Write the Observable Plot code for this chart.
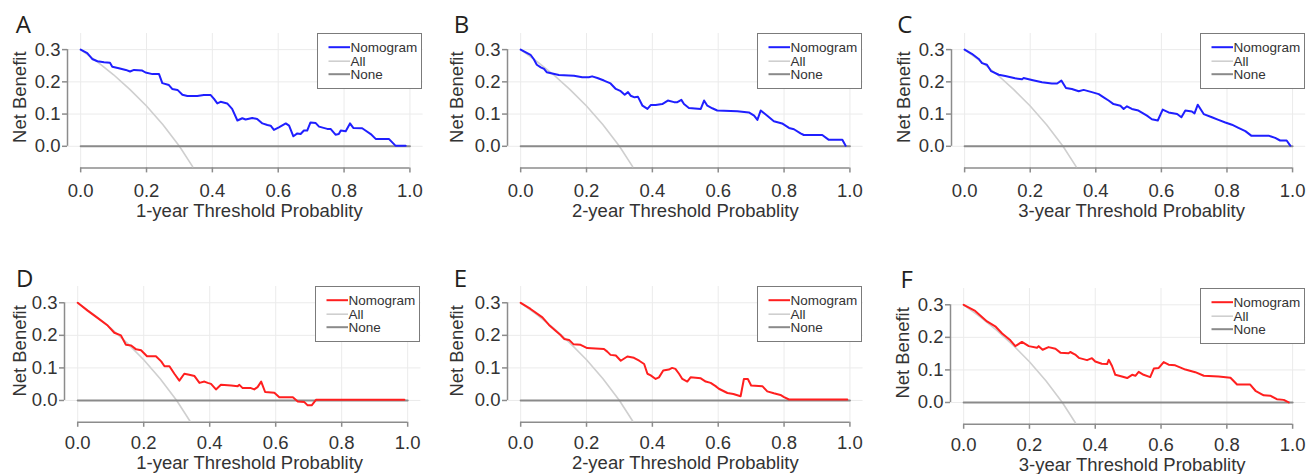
<!DOCTYPE html>
<html>
<head>
<meta charset="utf-8">
<script src="https://cdn.jsdelivr.net/npm/d3@7"></script>
<script src="https://cdn.jsdelivr.net/npm/@observablehq/plot@0.6"></script>
<style>
  body { margin: 0; background: #fff; }
  #wrap { position: relative; width: 1307px; height: 474px; overflow: hidden; background: #fff;
          font-family: "Liberation Sans", Arial, sans-serif; }
  .panel { position: absolute; }
  .legend { position: absolute; box-sizing: border-box; border: 1.5px solid #7b7b7b; background: #fff; }
</style>
</head>
<body>
<div id="wrap"></div>
<script>
// ---------------- data ----------------
const xTicks = [0, 0.2, 0.4, 0.6, 0.8, 1.0];
const yTicks = [0, 0.1, 0.2, 0.3];
const seriesNames = ["Nomogram", "All", "None"];
const letters = ["A", "B", "C", "D", "E", "F"];
const xTitles = ["1-year Threshold Probablity", "2-year Threshold Probablity", "3-year Threshold Probablity",
                 "1-year Threshold Probablity", "2-year Threshold Probablity", "3-year Threshold Probablity"];
const yTitle = "Net Benefit";

// "All" (treat all) curve
const allX = [0, 0.05, 0.10, 0.15, 0.20, 0.25, 0.30, 0.34];
const allY = [0.300, 0.263, 0.222, 0.176, 0.125, 0.067, 0.000, -0.063];
// "None" (treat none)
const noneX = [0, 1];
const noneY = [0, 0];

// Nomogram curves
const aX = [0,0.020,0.035,0.051,0.071,0.089,0.096,0.116,0.137,0.150,0.162,0.187,0.197,0.218,0.238,0.248,0.268,0.278,0.294,0.309,0.324,0.354,0.374,0.395,0.405,0.415,0.425,0.445,0.460,0.476,0.491,0.501,0.521,0.536,0.552,0.567,0.577,0.587,0.602,0.623,0.633,0.646,0.658,0.668,0.678,0.688,0.698,0.714,0.724,0.749,0.759,0.774,0.784,0.790,0.805,0.818,0.828,0.855,0.865,0.881,0.896,0.936,0.956,0.987];
const aY = [0.300,0.289,0.271,0.264,0.261,0.259,0.247,0.242,0.237,0.232,0.237,0.235,0.229,0.224,0.224,0.196,0.190,0.178,0.175,0.160,0.156,0.156,0.159,0.159,0.147,0.133,0.138,0.133,0.116,0.080,0.087,0.083,0.088,0.085,0.071,0.066,0.064,0.051,0.059,0.071,0.064,0.031,0.040,0.038,0.049,0.049,0.074,0.072,0.061,0.054,0.054,0.036,0.038,0.049,0.047,0.071,0.057,0.056,0.049,0.038,0.023,0.023,0.002,0.002];

const bX = [0,0.030,0.040,0.049,0.061,0.071,0.079,0.096,0.116,0.162,0.187,0.207,0.217,0.233,0.253,0.273,0.289,0.304,0.316,0.326,0.334,0.346,0.356,0.370,0.385,0.395,0.410,0.430,0.447,0.466,0.476,0.488,0.496,0.511,0.547,0.557,0.567,0.582,0.597,0.658,0.693,0.709,0.719,0.729,0.749,0.769,0.794,0.815,0.830,0.850,0.860,0.916,0.936,0.977,0.987];
const bY = [0.300,0.284,0.270,0.253,0.245,0.240,0.230,0.226,0.221,0.219,0.214,0.214,0.217,0.212,0.204,0.195,0.178,0.171,0.160,0.168,0.157,0.152,0.154,0.126,0.116,0.128,0.128,0.131,0.142,0.137,0.137,0.144,0.131,0.119,0.116,0.142,0.126,0.118,0.111,0.109,0.105,0.095,0.082,0.111,0.095,0.078,0.071,0.057,0.053,0.040,0.035,0.035,0.020,0.020,0.002];

const cX = [0,0.022,0.043,0.053,0.068,0.081,0.104,0.124,0.154,0.175,0.180,0.205,0.236,0.266,0.282,0.295,0.309,0.327,0.348,0.363,0.388,0.409,0.424,0.439,0.454,0.475,0.485,0.495,0.510,0.530,0.556,0.571,0.589,0.604,0.622,0.648,0.661,0.673,0.693,0.701,0.711,0.729,0.754,0.774,0.795,0.815,0.835,0.856,0.874,0.927,0.947,0.962,0.982,0.993];
const cY = [0.300,0.287,0.271,0.258,0.253,0.233,0.222,0.218,0.211,0.208,0.212,0.206,0.199,0.195,0.195,0.204,0.181,0.178,0.171,0.175,0.168,0.162,0.152,0.142,0.131,0.126,0.116,0.124,0.116,0.111,0.095,0.084,0.080,0.114,0.105,0.100,0.090,0.111,0.108,0.102,0.129,0.100,0.090,0.082,0.074,0.067,0.057,0.047,0.033,0.033,0.026,0.018,0.018,0.002];

const dX = [0,0.030,0.061,0.091,0.111,0.131,0.146,0.162,0.177,0.192,0.210,0.237,0.253,0.263,0.278,0.293,0.308,0.323,0.338,0.354,0.369,0.384,0.394,0.404,0.419,0.434,0.465,0.485,0.490,0.500,0.525,0.535,0.545,0.556,0.568,0.596,0.611,0.652,0.667,0.687,0.697,0.709,0.722,0.990];
const dY = [0.300,0.276,0.253,0.230,0.208,0.200,0.171,0.169,0.157,0.154,0.136,0.136,0.120,0.105,0.105,0.082,0.061,0.082,0.079,0.075,0.054,0.058,0.054,0.051,0.034,0.048,0.046,0.044,0.048,0.038,0.038,0.034,0.041,0.058,0.026,0.024,0.010,0.010,-0.003,-0.005,-0.015,-0.015,0.002,0.002];

const eX = [0,0.030,0.066,0.086,0.106,0.121,0.132,0.147,0.160,0.182,0.202,0.253,0.263,0.273,0.289,0.304,0.324,0.344,0.360,0.375,0.385,0.395,0.410,0.420,0.433,0.450,0.460,0.470,0.481,0.491,0.506,0.516,0.547,0.562,0.577,0.592,0.602,0.628,0.646,0.668,0.678,0.690,0.700,0.734,0.749,0.769,0.789,0.800,0.815,0.992];
const eY = [0.300,0.281,0.255,0.232,0.214,0.201,0.189,0.186,0.173,0.171,0.161,0.158,0.150,0.140,0.138,0.122,0.135,0.131,0.122,0.112,0.082,0.077,0.066,0.071,0.092,0.095,0.100,0.097,0.082,0.066,0.058,0.071,0.068,0.058,0.054,0.044,0.036,0.023,0.020,0.013,0.066,0.066,0.046,0.044,0.028,0.022,0.017,0.010,0.003,0.003];

const fX = [0,0.035,0.071,0.096,0.117,0.142,0.157,0.177,0.198,0.223,0.228,0.240,0.258,0.279,0.294,0.319,0.324,0.339,0.350,0.375,0.390,0.400,0.420,0.436,0.441,0.451,0.461,0.481,0.497,0.512,0.522,0.532,0.547,0.567,0.578,0.593,0.608,0.623,0.643,0.674,0.704,0.730,0.775,0.811,0.831,0.871,0.887,0.912,0.932,0.952,0.973,0.988];
const fY = [0.300,0.281,0.249,0.234,0.212,0.191,0.173,0.186,0.173,0.168,0.173,0.162,0.170,0.165,0.153,0.151,0.155,0.147,0.137,0.130,0.136,0.126,0.119,0.118,0.131,0.112,0.085,0.080,0.075,0.085,0.082,0.094,0.085,0.078,0.104,0.106,0.124,0.116,0.114,0.101,0.093,0.082,0.080,0.076,0.055,0.055,0.036,0.022,0.021,0.010,0.008,0.000];

// ---------------- styling / layout ----------------
const BLUE = "#1f1fff", RED = "#ff1f1f";
const ALL_COL = "#cfcfcf", NONE_COL = "#8a8a8a", AXIS_COL = "#8c8c8c", GRID_COL = "#ebebeb", TEXT_COL = "#333";
const XD = [-0.04, 1.04], YD = [-0.067, 0.35];
const ML = 72, MR = 4, MT = 36, MB = 62;
const FS = 18.5;

const layout = [
  {L: 66.8,  T: 32.9,  fw: 355.6, fh: 134.4, letX: 15,  letB: 32.3, ylabX: 19,    tdx: 4, tdy: 49, pad: 11},
  {L: 506.8, T: 32.9,  fw: 355.6, fh: 134.4, letX: 453, letB: 32.3, ylabX: 456.7, tdx: 0, tdy: 49, pad: 11},
  {L: 951.2, T: 32.9,  fw: 354.2, fh: 134.4, letX: 897, letB: 32.3, ylabX: 903.3, tdx: 3, tdy: 49, pad: 11},
  {L: 63.5,  T: 286.0, fw: 356.4, fh: 135.8, letX: 15,  letB: 287,  ylabX: 19,    tdx: 7, tdy: 47, pad: 9},
  {L: 506.8, T: 286.0, fw: 355.6, fh: 135.8, letX: 453, letB: 287,  ylabX: 456.7, tdx: 0, tdy: 47, pad: 9},
  {L: 950.1, T: 287.5, fw: 355.3, fh: 135.8, letX: 900, letB: 287,  ylabX: 902.7, tdx: 4, tdy: 47, pad: 9}
];
const series = [[aX, aY], [bX, bY], [cX, cY], [dX, dY], [eX, eY], [fX, fY]];
const colors = [BLUE, BLUE, BLUE, RED, RED, RED];

const wrap = document.getElementById("wrap");
const toRows = (xs, ys) => xs.map((x, i) => ({x, y: ys[i]}));
const allRows = toRows(allX, allY);
const noneRows = toRows(noneX, noneY);
const fmt = d3.format(".1f");

layout.forEach((g, i) => {
  const nomo = toRows(series[i][0], series[i][1]);
  const color = colors[i];
  const svg = Plot.plot({
    width: g.fw + ML + MR,
    height: g.fh + MT + MB,
    marginLeft: ML, marginRight: MR, marginTop: MT, marginBottom: MB,
    x: {domain: XD, label: null},
    y: {domain: YD, label: null},
    style: {fontFamily: "'Liberation Sans', Arial, sans-serif", color: TEXT_COL, background: "transparent", overflow: "visible"},
    marks: [
      Plot.gridX(xTicks, {stroke: GRID_COL, strokeOpacity: 1, strokeWidth: 1}),
      Plot.gridY(yTicks, {stroke: GRID_COL, strokeOpacity: 1, strokeWidth: 1}),
      Plot.ruleY([YD[0]], {x1: xTicks[0], x2: xTicks[xTicks.length - 1], stroke: AXIS_COL, strokeWidth: 1.5}),
      Plot.ruleX([XD[0]], {y1: yTicks[0], y2: yTicks[yTicks.length - 1], stroke: AXIS_COL, strokeWidth: 1.5}),
      Plot.axisX(xTicks, {anchor: "bottom", tickSize: 5, tickPadding: g.pad, tickFormat: fmt, stroke: AXIS_COL,
                          strokeWidth: 1.5, fill: TEXT_COL, fontSize: FS, label: null}),
      Plot.axisY(yTicks, {anchor: "left", tickSize: 5, tickPadding: 2, tickFormat: fmt, stroke: AXIS_COL,
                          strokeWidth: 1.5, fill: TEXT_COL, fontSize: FS, label: null}),
      Plot.line(allRows, {x: "x", y: "y", stroke: ALL_COL, strokeWidth: 1.6}),
      Plot.line(noneRows, {x: "x", y: "y", stroke: NONE_COL, strokeWidth: 2}),
      Plot.line(nomo, {x: "x", y: "y", stroke: color, strokeWidth: 2}),
      Plot.text([xTitles[i]], {frameAnchor: "bottom", dx: g.tdx, dy: g.tdy, lineAnchor: "bottom",
                               textAnchor: "middle", fontSize: FS, fill: TEXT_COL}),
      Plot.text([yTitle], {frameAnchor: "left", rotate: -90, dx: g.ylabX - g.L, dy: -3.5, lineAnchor: "middle",
                           textAnchor: "middle", fontSize: FS, fill: TEXT_COL}),
      Plot.text([letters[i]], {frameAnchor: "top-left", dx: g.letX - g.L, dy: g.letB - g.T, lineAnchor: "bottom",
                               textAnchor: "start", fontSize: 24, fill: "#231f20",
                               fontFamily: "'Open Sans', 'Liberation Sans', sans-serif"})
    ]
  });
  svg.classList.add("panel");
  svg.style.left = (g.L - ML) + "px";
  svg.style.top = (g.T - MT) + "px";
  wrap.appendChild(svg);

  // legend (R-style topright box)
  const LW = 105, LH = 56;
  const leg = document.createElement("div");
  leg.className = "legend";
  leg.style.left = (g.L + g.fw - LW) + "px";
  leg.style.top = g.T + "px";
  leg.style.width = LW + "px";
  leg.style.height = LH + "px";
  const ls = d3.create("svg").attr("width", LW - 3).attr("height", LH - 3)
    .style("position", "absolute").style("left", "0px").style("top", "0px");
  const styles = [
    {stroke: color, w: 2}, {stroke: ALL_COL, w: 1.6}, {stroke: NONE_COL, w: 2}
  ];
  const rowsY = [13.2, 27.2, 40.2];
  seriesNames.forEach((name, k) => {
    ls.append("line").attr("x1", 10.5).attr("x2", 32).attr("y1", rowsY[k]).attr("y2", rowsY[k])
      .attr("stroke", styles[k].stroke).attr("stroke-width", styles[k].w);
    ls.append("text").attr("x", 32.5).attr("y", rowsY[k]).attr("dy", "0.35em")
      .attr("font-size", 13.5).attr("fill", TEXT_COL)
      .attr("font-family", "'Liberation Sans', Arial, sans-serif").text(name);
  });
  leg.appendChild(ls.node());
  wrap.appendChild(leg);
});
</script>
</body>
</html>
